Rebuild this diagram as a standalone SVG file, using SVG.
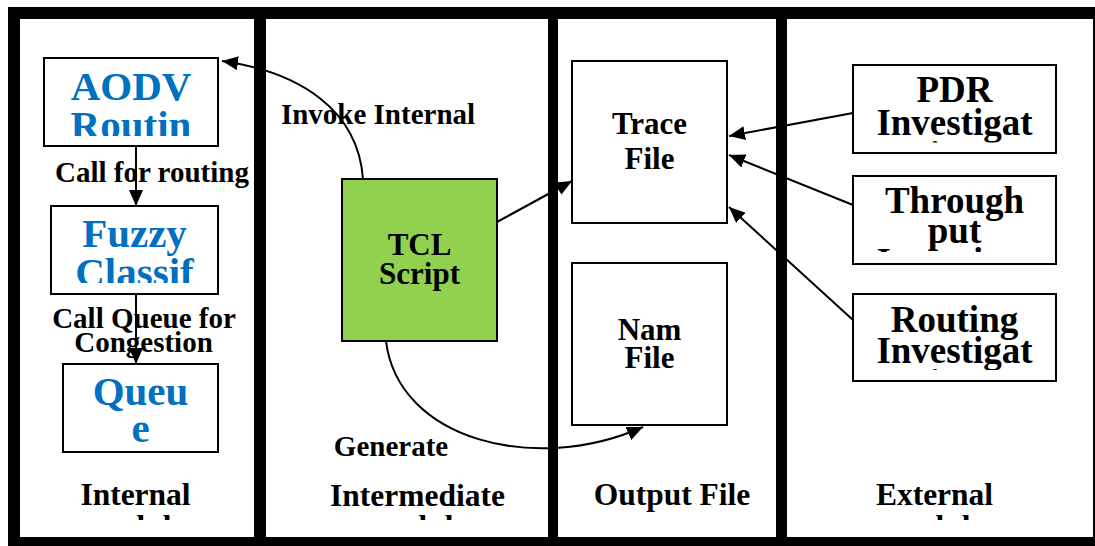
<svg xmlns="http://www.w3.org/2000/svg" width="1095" height="546" viewBox="0 0 1095 546">
  <style>
    .panel { fill: #ffffff; }
    .box { fill: #ffffff; stroke: #000000; stroke-width: 2; }
    .tcl { fill: #92D050; stroke: #000000; stroke-width: 2; }
    text { font-family: "Liberation Serif", "Times New Roman", serif; font-weight: bold; text-anchor: middle; }
    .blue { fill: #0070C0; font-size: 41px; }
    .mid { fill: #000000; font-size: 31px; }
    .ext { fill: #000000; font-size: 37px; }
    .lbl { fill: #000000; font-size: 29px; }
    .title { fill: #000000; font-size: 31.5px; }
    .conn { fill: none; stroke: #000000; stroke-width: 2; }
  </style>
  <defs>
    <marker id="arrow" markerUnits="userSpaceOnUse" markerWidth="16" markerHeight="14" refX="16" refY="7" orient="auto">
      <path d="M0,0 L16,7 L0,14 z" fill="#000000"/>
    </marker>
    <clipPath id="clipAodv"><rect x="44" y="58" width="174" height="78"/></clipPath>
    <clipPath id="clipFuzzy"><rect x="51" y="206" width="167" height="77"/></clipPath>
    <clipPath id="clipPdr"><rect x="853" y="65" width="203" height="77.5"/></clipPath>
    <clipPath id="clipThru"><rect x="853" y="176" width="203" height="76"/></clipPath>
    <clipPath id="clipRout"><rect x="853" y="294" width="203" height="76"/></clipPath>
    <clipPath id="clipTitles"><rect x="0" y="0" width="1095" height="520"/></clipPath>
  </defs>

  <!-- frame and column panels -->
  <g id="frame">
    <rect x="8" y="7" width="1087" height="539" fill="#000000"/>
    <rect class="panel" x="20" y="19" width="234" height="518"/>
    <rect class="panel" x="266" y="19" width="282" height="518"/>
    <rect class="panel" x="558" y="19" width="218" height="518"/>
    <rect class="panel" x="787" y="19" width="306" height="518"/>
  </g>

  <!-- column titles (second line runs past the panel and is cut off) -->
  <g id="titles" clip-path="url(#clipTitles)">
    <text class="title" x="135.5" y="505">Internal<tspan x="135.5" dy="32">module</tspan></text>
    <text class="title" x="417.5" y="506">Intermediate<tspan x="417.5" dy="31">module</tspan></text>
    <text class="title" x="672" y="505">Output File</text>
    <text class="title" x="934.5" y="505">External<tspan x="934.5" dy="32">module</tspan></text>
  </g>

  <!-- internal module -->
  <g id="aodv">
    <rect class="box" x="44" y="58" width="174" height="88"/>
    <g clip-path="url(#clipAodv)">
      <text class="blue" x="131" y="100">AODV</text>
      <text class="blue" x="131" y="139">Routin</text>
    </g>
  </g>
  <g id="fuzzy">
    <rect class="box" x="51" y="206" width="167" height="88"/>
    <g clip-path="url(#clipFuzzy)">
      <text class="blue" x="134.5" y="247">Fuzzy</text>
      <text class="blue" x="134.5" y="286">Classif</text>
    </g>
  </g>
  <g id="queue">
    <rect class="box" x="63" y="364" width="155" height="88"/>
    <text class="blue" x="140.5" y="405">Queu</text>
    <text class="blue" x="140.5" y="442">e</text>
  </g>

  <!-- intermediate module -->
  <g id="tcl">
    <rect class="tcl" x="342" y="179" width="155" height="162"/>
    <text class="mid" x="419.5" y="255">TCL</text>
    <text class="mid" x="419.5" y="284">Script</text>
  </g>

  <!-- output files -->
  <g id="trace">
    <rect class="box" x="572" y="61" width="155" height="162"/>
    <text class="mid" x="649.5" y="134">Trace</text>
    <text class="mid" x="649.5" y="169">File</text>
  </g>
  <g id="nam">
    <rect class="box" x="572" y="263" width="155" height="162"/>
    <text class="mid" x="649.5" y="340">Nam</text>
    <text class="mid" x="649.5" y="368">File</text>
  </g>

  <!-- external module -->
  <g id="pdr">
    <rect class="box" x="853" y="65" width="203" height="88"/>
    <g clip-path="url(#clipPdr)">
      <text class="ext" x="954.5" y="102">PDR</text>
      <text class="ext" x="954.5" y="135">Investigat</text>
      <text class="ext" x="954.5" y="168">ion</text>
    </g>
  </g>
  <g id="throughput">
    <rect class="box" x="853" y="176" width="203" height="88"/>
    <g clip-path="url(#clipThru)">
      <text class="ext" x="954.5" y="213">Through</text>
      <text class="ext" x="954.5" y="243">put</text>
      <text class="ext" x="954.5" y="274">Investigat</text>
    </g>
  </g>
  <g id="routing">
    <rect class="box" x="853" y="294" width="203" height="87"/>
    <g clip-path="url(#clipRout)">
      <text class="ext" x="954.5" y="332">Routing</text>
      <text class="ext" x="954.5" y="363">Investigat</text>
      <text class="ext" x="954.5" y="396">ion</text>
    </g>
  </g>

  <!-- connectors -->
  <g id="connectors">
    <line class="conn" x1="136" y1="146" x2="136" y2="206" marker-end="url(#arrow)"/>
    <line class="conn" x1="136" y1="294" x2="136" y2="364" marker-end="url(#arrow)"/>
    <path class="conn" d="M363,179 C358,110 300,72 222,61" marker-end="url(#arrow)"/>
    <line class="conn" x1="497" y1="222" x2="572" y2="181" marker-end="url(#arrow)"/>
    <path class="conn" d="M386,341 C398,440 535,475 643,427" marker-end="url(#arrow)"/>
    <line class="conn" x1="853" y1="113" x2="729" y2="136" marker-end="url(#arrow)"/>
    <line class="conn" x1="853" y1="205" x2="729" y2="155" marker-end="url(#arrow)"/>
    <line class="conn" x1="853" y1="320" x2="729" y2="207" marker-end="url(#arrow)"/>
  </g>

  <!-- connector labels -->
  <g id="labels">
    <text class="lbl" x="152" y="182">Call for routing</text>
    <text class="lbl" x="144" y="328">Call Queue for</text>
    <text class="lbl" x="143.5" y="352">Congestion</text>
    <text class="lbl" x="378" y="124">Invoke Internal</text>
    <text class="lbl" x="391" y="456">Generate</text>
  </g>
</svg>
